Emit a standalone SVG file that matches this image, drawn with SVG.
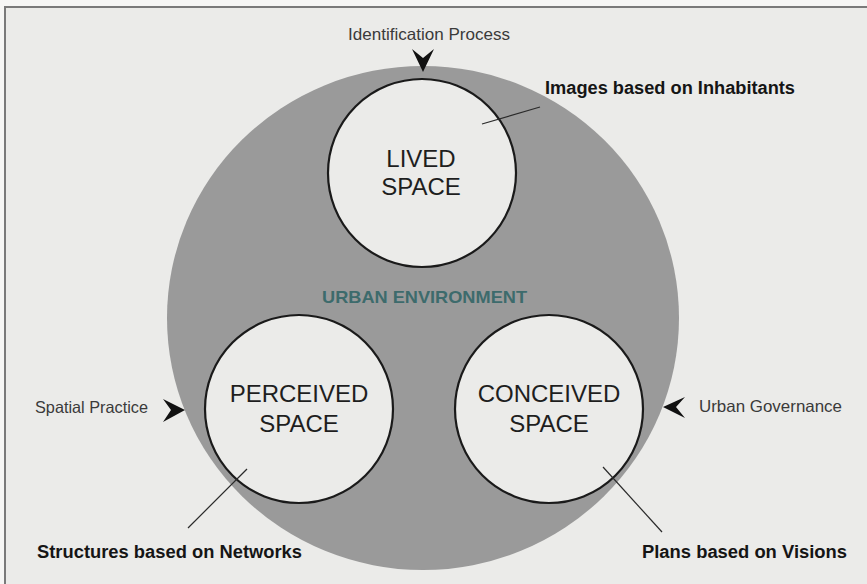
<svg xmlns="http://www.w3.org/2000/svg" width="867" height="584" viewBox="0 0 867 584">
  <style>
    .bg { fill: #ebebe9; }
    .frame { stroke: #7a7a7a; stroke-width: 2; fill: none; }
    .env { fill: #9a9a9a; }
    .space { fill: #ebebe9; stroke: #1a1a1a; stroke-width: 2.2; }
    .title { font-family: "Liberation Sans", Arial, sans-serif; font-size: 24px; fill: #1e1e1e; text-anchor: middle; }
    .cond { font-family: "Liberation Sans", Arial, sans-serif; font-size: 16.5px; fill: #3a3a3a; }
    .note { font-family: "Liberation Sans", Arial, sans-serif; font-size: 18px; font-weight: bold; fill: #151515; }
    .env-label { font-family: "Liberation Sans", Arial, sans-serif; font-size: 17px; font-weight: bold; fill: #3d6b6c; }
    .leader { stroke: #2a2a2a; stroke-width: 1.2; fill: none; }
    .chevron { fill: #111; }
  </style>

  <!-- page and frame -->
  <rect x="0" y="0" width="867" height="584" fill="#f6f6f5"/>
  <rect class="bg" x="5" y="7" width="862" height="577"/>
  <path class="frame" d="M5 584 V7 H867"/>

  <!-- urban environment -->
  <g id="urban-environment">
    <ellipse class="env" cx="423" cy="318" rx="256" ry="252"/>
    <text class="env-label" x="322" y="303" textLength="205" lengthAdjust="spacingAndGlyphs">URBAN ENVIRONMENT</text>
  </g>

  <g id="lived-space">
    <circle class="space" cx="422" cy="173" r="94"/>
    <text class="title" x="421" y="167" font-size="23">LIVED</text>
    <text class="title" x="421" y="195" font-size="23">SPACE</text>
  </g>

  <g id="perceived-space">
    <circle class="space" cx="299" cy="409" r="94"/>
    <text class="title" x="299" y="402">PERCEIVED</text>
    <text class="title" x="299" y="432">SPACE</text>
  </g>

  <g id="conceived-space">
    <circle class="space" cx="549" cy="409" r="94"/>
    <text class="title" x="549" y="402">CONCEIVED</text>
    <text class="title" x="549" y="432">SPACE</text>
  </g>

  <!-- process labels with chevrons -->
  <g id="identification-process">
    <text class="cond" x="348" y="40" textLength="162" lengthAdjust="spacingAndGlyphs">Identification Process</text>
    <path class="chevron" d="M412 49 L423 72 L434 49 L423 58 Z"/>
  </g>

  <g id="spatial-practice">
    <text class="cond" x="35" y="413" textLength="113" lengthAdjust="spacingAndGlyphs">Spatial Practice</text>
    <path class="chevron" d="M163 399 L185 410 L163 422 L171 410 Z"/>
  </g>

  <g id="urban-governance">
    <text class="cond" x="699" y="412" textLength="143" lengthAdjust="spacingAndGlyphs">Urban Governance</text>
    <path class="chevron" d="M685 397 L663 407 L685 418 L676 407 Z"/>
  </g>

  <!-- annotations -->
  <g id="images-note">
    <text class="note" x="545" y="94" textLength="250" lengthAdjust="spacingAndGlyphs">Images based on Inhabitants</text>
  </g>
  <g id="structures-note">
    <text class="note" x="37" y="558" textLength="265" lengthAdjust="spacingAndGlyphs">Structures based on Networks</text>
  </g>
  <g id="plans-note">
    <text class="note" x="642" y="558" textLength="205" lengthAdjust="spacingAndGlyphs">Plans based on Visions</text>
  </g>

  <!-- leader lines -->
  <g id="connectors">
    <path class="leader" d="M482 124 L540 107"/>
    <path class="leader" d="M247 469 L188 528"/>
    <path class="leader" d="M603 467 L662 532"/>
  </g>
</svg>
